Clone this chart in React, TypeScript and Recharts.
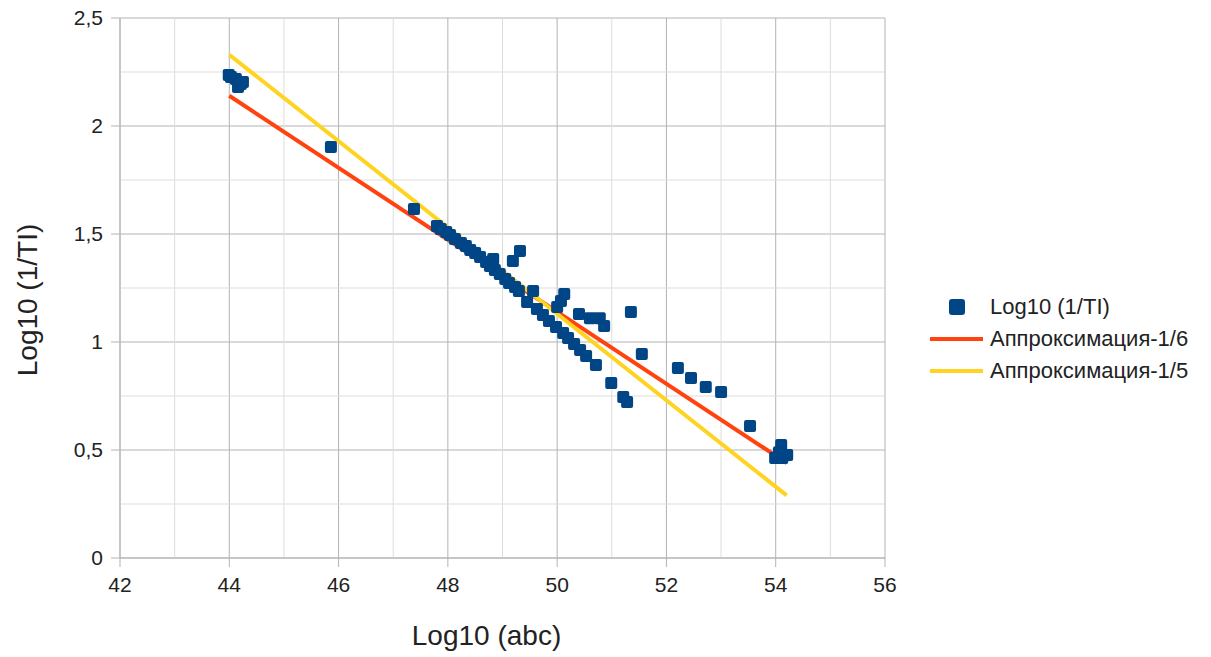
import {
  ScatterChart,
  Scatter,
  XAxis,
  YAxis,
  CartesianGrid,
  ReferenceLine,
  Legend,
  Label,
} from "recharts";

const FONT = '"Liberation Sans", Arial, sans-serif';

const xTicks = [42, 44, 46, 48, 50, 52, 54, 56];
const yTicks = [0, 0.5, 1, 1.5, 2, 2.5];
const xMinor = [43, 45, 47, 49, 51, 53, 55];
const yMinor = [0.25, 0.75, 1.25, 1.75, 2.25];

// Log10 (abc) / Log10 (1/TI) observations
const obsX = [
  43.99, 44.03, 44.12, 44.21, 44.25, 44.16, 45.86, 47.38,
  47.8, 47.87, 47.97, 48.04, 48.13, 48.24, 48.33, 48.41, 48.5, 48.59, 48.7, 48.77,
  48.86, 48.95, 49.05, 49.12, 49.23, 49.3, 48.83, 49.19, 49.32, 49.56,
  49.45, 49.63, 49.74, 49.85, 49.98, 50.11, 50.2, 50.31, 50.42, 50.53, 50.71,
  50.99, 51.21, 51.28, 50.13, 50.07, 50.0,
  50.4, 50.6, 50.78, 50.86, 51.35, 51.55, 52.21, 52.45, 52.72, 53.0, 53.53,
  54.1, 53.99, 54.12, 54.21, 54.06,
];
const obsY = [
  2.236, 2.227, 2.218, 2.194, 2.204, 2.18, 1.903, 1.616,
  1.537, 1.523, 1.509, 1.495, 1.477, 1.458, 1.444, 1.426, 1.412, 1.394, 1.37, 1.352,
  1.333, 1.315, 1.292, 1.273, 1.255, 1.236, 1.384, 1.375, 1.421, 1.236,
  1.185, 1.153, 1.125, 1.097, 1.069, 1.042, 1.019, 0.991, 0.963, 0.935, 0.894,
  0.81, 0.745, 0.722, 1.222, 1.19, 1.162,
  1.13, 1.11, 1.11, 1.074, 1.139, 0.944, 0.88, 0.833, 0.792, 0.769, 0.611,
  0.523, 0.463, 0.463, 0.477, 0.49,
];

// approximation lines
const fit6X = [44, 54.2];
const fit6Y = [2.14, 0.44];
const fit5X = [44, 54.2];
const fit5Y = [2.33, 0.29];

const seriesNames = ["Log10 (1/TI)", "Аппроксимация-1/6", "Аппроксимация-1/5"];
const seriesColors = ["#004586", "#ff420e", "#ffd320"];

const points = obsX.map((x, i) => ({ x, y: obsY[i] }));
const fit6 = fit6X.map((x, i) => ({ x, y: fit6Y[i] }));
const fit5 = fit5X.map((x, i) => ({ x, y: fit5Y[i] }));

const SquareDot = (props: any) => {
  const { cx, cy } = props;
  if (cx == null || cy == null) return <g />;
  return <rect x={cx - 6} y={cy - 6} width={12} height={12} rx={2} fill={seriesColors[0]} />;
};

const NoDot = () => <g />;

const renderLegend = () => (
  <div style={{ fontFamily: FONT, fontSize: 22, color: "#222" }}>
    {seriesNames.map((name, i) => (
      <div key={name} style={{ display: "flex", alignItems: "center", height: 32 }}>
        <div style={{ width: 62, height: 32, position: "relative" }}>
          {i === 0 ? (
            <div
              style={{
                position: "absolute",
                left: 21,
                top: 8,
                width: 16,
                height: 16,
                borderRadius: 3,
                background: seriesColors[0],
              }}
            />
          ) : (
            <div
              style={{
                position: "absolute",
                left: 2,
                top: 14,
                width: 53,
                height: 4,
                background: seriesColors[i],
              }}
            />
          )}
        </div>
        <span>{name}</span>
      </div>
    ))}
  </div>
);

const tickStyle = { fontSize: 21, fill: "#222", fontFamily: FONT };

export default function App() {
  return (
    <div style={{ position: "absolute", left: 0, top: 0, width: 1211, height: 657, background: "#fff" }}>
      <ScatterChart
        width={1211}
        height={657}
        margin={{ top: 18, right: 326, bottom: 0, left: 0 }}
        style={{ fontFamily: FONT }}
      >
        {xMinor.map((v) => (
          <ReferenceLine key={"vx" + v} x={v} stroke="#dddddd" strokeWidth={1} />
        ))}
        {yMinor.map((v) => (
          <ReferenceLine key={"hy" + v} y={v} stroke="#dddddd" strokeWidth={1} />
        ))}
        <CartesianGrid stroke="#b3b3b3" strokeWidth={1} />
        <XAxis
          type="number"
          dataKey="x"
          domain={[42, 56]}
          ticks={xTicks}
          allowDataOverflow
          height={99}
          tick={tickStyle}
          tickSize={9}
          tickMargin={10}
          stroke="#b3b3b3"
        >
          <Label
            value="Log10 (abc)"
            position="insideBottom"
            offset={12}
            dx={-16}
            style={{ fontSize: 28, fill: "#222", fontFamily: FONT }}
          />
        </XAxis>
        <YAxis
          type="number"
          dataKey="y"
          domain={[0, 2.5]}
          ticks={yTicks}
          allowDataOverflow
          width={120}
          tick={tickStyle}
          tickSize={9}
          tickMargin={8}
          stroke="#b3b3b3"
          tickFormatter={(v: number) => String(v).replace(".", ",")}
        >
          <Label
            value="Log10 (1/TI)"
            position="center"
            angle={-90}
            dx={-33}
            dy={12}
            style={{ fontSize: 28, fill: "#222", fontFamily: FONT, textAnchor: "middle" }}
          />
        </YAxis>
        <Scatter
          name={seriesNames[1]}
          data={fit6}
          fill={seriesColors[1]}
          line={{ stroke: seriesColors[1], strokeWidth: 4 }}
          shape={NoDot}
          legendType="none"
          isAnimationActive={false}
        />
        <Scatter
          name={seriesNames[2]}
          data={fit5}
          fill={seriesColors[2]}
          line={{ stroke: seriesColors[2], strokeWidth: 4 }}
          shape={NoDot}
          legendType="none"
          isAnimationActive={false}
        />
        <Scatter
          name={seriesNames[0]}
          data={points}
          fill={seriesColors[0]}
          shape={SquareDot}
          isAnimationActive={false}
        />
        <Legend
          layout="vertical"
          align="center"
          verticalAlign="middle"
          content={renderLegend}
          wrapperStyle={{ left: 928, top: 291, width: 283, height: 100 }}
        />
      </ScatterChart>
    </div>
  );
}
